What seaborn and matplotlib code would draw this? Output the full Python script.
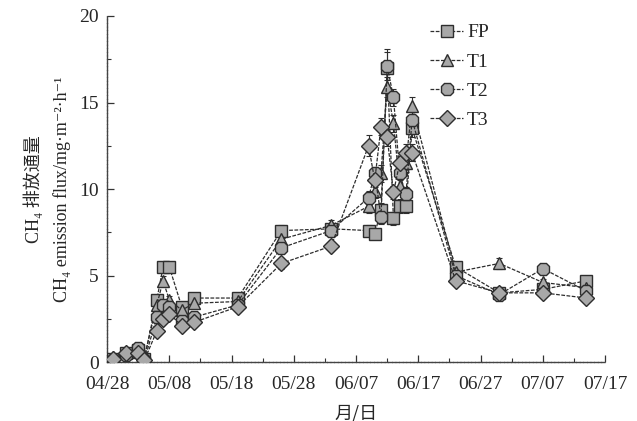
import numpy as np
import pandas as pd
import matplotlib
matplotlib.use("Agg")
import matplotlib.pyplot as plt
import seaborn as sns
from matplotlib.ticker import MultipleLocator

# ---- data (days after 04/28) ----
days = [1, 3, 5, 6, 8, 9, 10, 12, 14, 21, 28, 36,
        42, 43, 44, 45, 46, 47, 48, 49, 56, 63, 70, 77]
fp = [0.2, 0.5, 0.7, 0.2, 3.6, 5.5, 5.5, 3.2, 3.7, 3.7, 7.6, 7.7,
      7.6, 7.4, 8.8, 17.0, 8.3, 9.0, 9.0, 13.5, 5.5, 4.0, 4.2, 4.7]
t1 = [0.3, 0.6, 0.6, 0.3, 3.3, 4.7, 3.6, 3.0, 3.4, 3.5, 7.1, 7.9,
      9.0, 9.9, 10.9, 15.9, 13.8, 10.2, 11.5, 14.8, 5.2, 5.7, 4.6, 4.3]
t2 = [0.1, 0.4, 0.8, 0.1, 2.6, 3.3, 3.2, 2.4, 2.6, 3.3, 6.6, 7.6,
      9.5, 10.9, 8.4, 17.1, 15.3, 10.9, 9.7, 14.0, 5.0, 3.9, 5.4, 4.1]
t3 = [0.2, 0.5, 0.5, 0.1, 1.8, 2.5, 2.8, 2.1, 2.3, 3.2, 5.7, 6.7,
      12.5, 10.5, 13.6, 13.0, 9.8, 11.5, 12.1, 12.1, 4.7, 4.0, 4.0, 3.7]
fp_err = [0.1, 0.1, 0.1, 0.1, 0.2, 0.2, 0.2, 0.2, 0.2, 0.2, 0.3, 0.3,
          0.3, 0.3, 0.4, 1.1, 0.4, 0.4, 0.4, 0.5, 0.2, 0.2, 0.2, 0.2]
t1_err = [0.1, 0.1, 0.1, 0.1, 0.2, 0.3, 0.2, 0.2, 0.2, 0.2, 0.3, 0.3,
          0.4, 0.4, 0.5, 0.6, 0.5, 0.4, 0.5, 0.5, 0.2, 0.3, 0.2, 0.2]
t2_err = [0.1, 0.1, 0.1, 0.1, 0.2, 0.2, 0.2, 0.2, 0.2, 0.2, 0.3, 0.3,
          0.4, 0.4, 0.4, 0.8, 0.5, 0.4, 0.4, 0.5, 0.2, 0.2, 0.2, 0.2]
t3_err = [0.1, 0.1, 0.1, 0.1, 0.2, 0.2, 0.2, 0.2, 0.2, 0.2, 0.3, 0.3,
          0.6, 0.4, 0.5, 0.5, 0.4, 0.4, 0.5, 0.5, 0.2, 0.2, 0.2, 0.2]
series_names = ["FP", "T1", "T2", "T3"]
tick_days = [0, 10, 20, 30, 40, 50, 60, 70, 80]
tick_labels = ["04/28", "05/08", "05/18", "05/28", "06/07", "06/17",
               "06/27", "07/07", "07/17"]

sns.set_style("ticks")
serif = ["Liberation Serif", "DejaVu Serif", "Noto Sans CJK SC"]
plt.rcParams["font.family"] = serif
plt.rcParams["mathtext.fontset"] = "stix"

fig = plt.figure(figsize=(6.37, 4.21), dpi=100)
ax = fig.add_axes([0.168, 0.140, 0.782, 0.822])

values = [fp, t1, t2, t3]
errs = [fp_err, t1_err, t2_err, t3_err]
markers = ["s", "^", "8", "D"]
msizes = [8.5, 8.5, 9.5, 8]
edge = "#2e2e2e"
face = "#a8a8a8"

for name, vals, err, mk, ms in zip(series_names, values, errs, markers, msizes):
    ax.errorbar(days, vals, yerr=err, fmt="none", ecolor=edge, elinewidth=0.8,
                capsize=2.5, capthick=0.8, zorder=2)
    sns.lineplot(x=days, y=vals, ax=ax, color=edge, linewidth=0.9,
                 marker=mk, markersize=ms, markerfacecolor=face,
                 markeredgecolor=edge, markeredgewidth=1.0,
                 linestyle=(0, (3, 1.2)), label=name, zorder=3)

ax.set_xlim(0, 80)
ax.set_ylim(0, 20)
ax.set_xticks(tick_days)
ax.set_xticklabels(tick_labels)
ax.xaxis.set_minor_locator(MultipleLocator(5))
ax.set_yticks([0, 5, 10, 15, 20])
ax.yaxis.set_minor_locator(MultipleLocator(2.5))
ax.tick_params(axis="both", which="major", direction="in", length=5,
               width=0.9, labelsize=14, color="#333333")
ax.tick_params(axis="x", which="major", pad=10)
ax.tick_params(axis="y", which="major", pad=6)
ax.tick_params(axis="both", which="minor", direction="in", length=3,
               width=0.8, color="#333333")
for s in ["top", "right"]:
    ax.spines[s].set_visible(False)
for s in ["left", "bottom"]:
    ax.spines[s].set_linewidth(1.0)
    ax.spines[s].set_color("#444444")
    ax.spines[s].set_linestyle((0, (2, 0.6)))

ax.set_xlabel("月/日", fontsize=13, family=["Noto Sans CJK SC", "DejaVu Sans"],
              labelpad=8)
ax.set_ylabel("CH\u2084 排放通量\nCH\u2084 emission flux/mg\u00b7m\u207b\u00b2\u00b7h\u207b\u00b9",
              fontsize=13, linespacing=1.7, labelpad=6)

leg = ax.legend(loc="upper left", bbox_to_anchor=(0.633, 1.0), frameon=False,
                fontsize=14, handlelength=1.7, handletextpad=0.2,
                labelspacing=0.6, borderaxespad=0)

fig.savefig("out.png", dpi=100)
